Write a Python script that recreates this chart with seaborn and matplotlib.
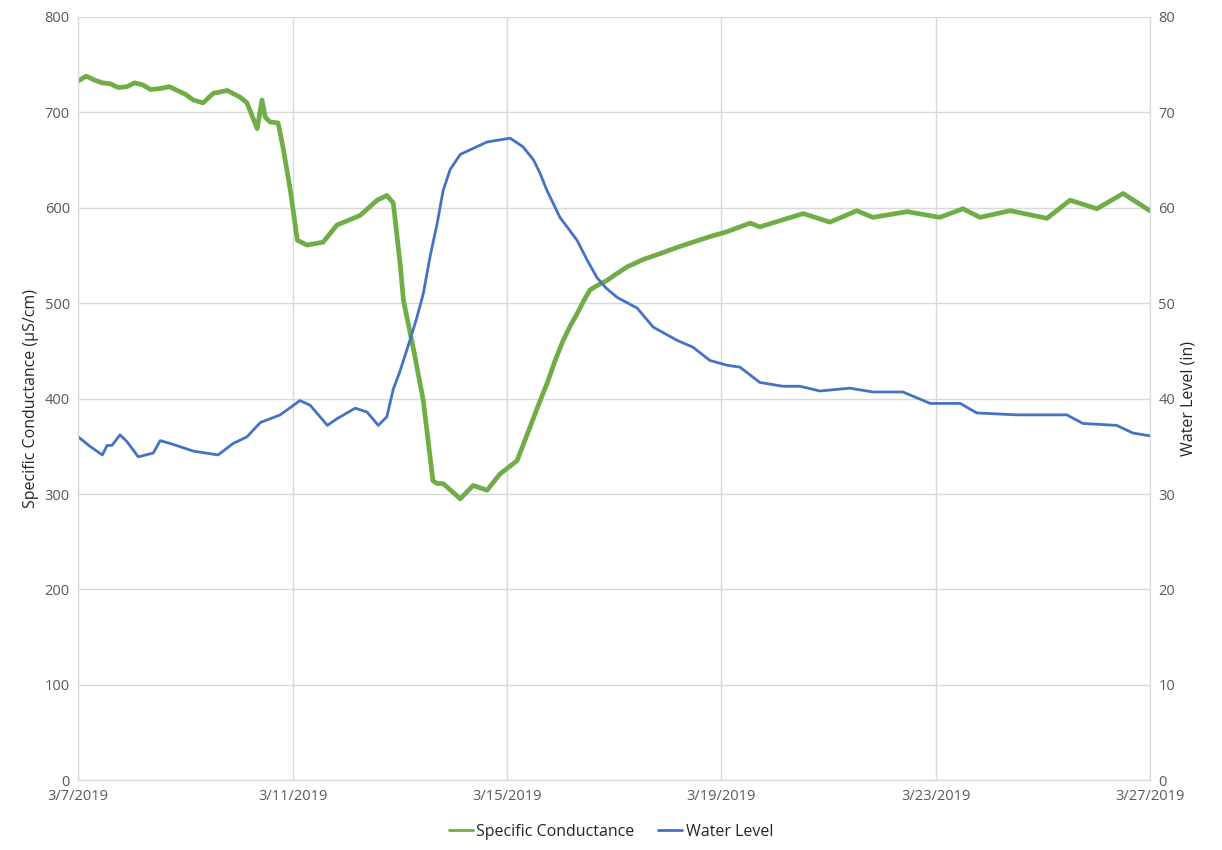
import matplotlib
matplotlib.use("Agg")
import matplotlib.pyplot as plt
from matplotlib.lines import Line2D
import numpy as np
import pandas as pd
import seaborn as sns

start = pd.Timestamp("2019-03-07")

# specific conductance (uS/cm), days since 3/7/2019
sc_days = [0.00, 0.15, 0.30, 0.45, 0.60, 0.75, 0.91, 1.05, 1.20, 1.35, 1.53, 1.70,
           1.85, 2.00, 2.15, 2.33, 2.52, 2.78, 3.02, 3.15, 3.34, 3.43, 3.49, 3.58,
           3.73, 3.82, 3.96, 4.09, 4.27, 4.57, 4.83, 5.26, 5.58, 5.76, 5.88, 6.01,
           6.07, 6.26, 6.44, 6.62, 6.70, 6.81, 7.13, 7.37, 7.63, 7.87, 8.19, 8.43,
           8.60, 8.75, 8.90, 9.05, 9.18, 9.31, 9.43, 9.55, 9.70, 9.87, 10.05, 10.24,
           10.55, 10.86, 11.15, 11.47, 11.80, 12.11, 12.54, 12.72, 13.53, 14.03,
           14.53, 14.83, 15.47, 16.08, 16.51, 16.83, 17.39, 18.08, 18.51, 19.01,
           19.50, 20.00]
sc_vals = [733, 738, 734, 731, 730, 726, 727, 731, 729, 724, 725, 727,
           723, 719, 713, 710, 720, 723, 716, 710, 683, 713, 695, 690,
           689, 664, 618, 566, 561, 564, 582, 592, 608, 613, 605, 540,
           503, 451, 398, 314, 311, 311, 295, 309, 304, 321, 335, 370,
           395, 416, 440, 461, 476, 489, 502, 514, 519, 524, 531, 538,
           546, 552, 558, 564, 570, 575, 584, 580, 594, 585,
           597, 590, 596, 590, 599, 590, 597, 589, 608, 599,
           615, 597]

# water level (in)
wl_days = [0.00, 0.22, 0.45, 0.54, 0.63, 0.78, 0.91, 1.12, 1.40, 1.53, 1.72, 2.15,
           2.61, 2.89, 3.15, 3.40, 3.77, 4.14, 4.33, 4.65, 4.83, 5.17, 5.39, 5.60,
           5.76, 5.88, 6.00, 6.19, 6.32, 6.44, 6.57, 6.70, 6.81, 6.94, 7.13, 7.63,
           8.06, 8.30, 8.50, 8.62, 8.75, 8.99, 9.15, 9.31, 9.50, 9.68, 9.85, 10.06,
           10.43, 10.73, 11.18, 11.47, 11.79, 12.11, 12.35, 12.72, 13.15, 13.47,
           13.84, 14.40, 14.83, 15.39, 15.90, 16.46, 16.77, 17.52, 18.45, 18.75,
           19.38, 19.68, 20.00]
wl_vals = [36.0, 35.0, 34.1, 35.1, 35.1, 36.2, 35.5, 33.9, 34.3, 35.6, 35.3, 34.5,
           34.1, 35.3, 36.0, 37.5, 38.3, 39.8, 39.3, 37.2, 37.9, 39.0, 38.6, 37.2,
           38.1, 41.0, 42.8, 46.1, 48.5, 51.0, 55.0, 58.4, 61.8, 64.0, 65.6, 66.9,
           67.3, 66.4, 65.0, 63.6, 61.8, 59.0, 57.8, 56.6, 54.5, 52.7, 51.6, 50.6,
           49.5, 47.5, 46.1, 45.4, 44.0, 43.5, 43.3, 41.7, 41.3, 41.3,
           40.8, 41.1, 40.7, 40.7, 39.5, 39.5, 38.5, 38.3, 38.3, 37.4,
           37.2, 36.4, 36.1]

tick_dates = ["2019-03-07", "2019-03-11", "2019-03-15", "2019-03-19", "2019-03-23", "2019-03-27"]
tick_labels = ["3/7/2019", "3/11/2019", "3/15/2019", "3/19/2019", "3/23/2019", "3/27/2019"]

green = "#70ad47"
blue = "#4472c4"
grid_c = "#d9d9d9"
text_c = "#595959"

sns.set_style("white")
plt.rcParams["font.family"] = ["Open Sans", "DejaVu Sans"]

sc = pd.DataFrame({"date": start + pd.to_timedelta(sc_days, unit="D"), "val": sc_vals})
wl = pd.DataFrame({"date": start + pd.to_timedelta(wl_days, unit="D"), "val": wl_vals})

fig, ax = plt.subplots(figsize=(12.22, 8.5), dpi=100)
fig.subplots_adjust(left=0.064, right=0.941, top=0.98, bottom=0.082)
ax2 = ax.twinx()

sns.lineplot(data=sc, x="date", y="val", ax=ax, color=green, linewidth=3.4)
sns.lineplot(data=wl, x="date", y="val", ax=ax2, color=blue, linewidth=2.0)

ticks = [pd.Timestamp(t) for t in tick_dates]
ax.set_xlim(ticks[0], ticks[-1])
ax.set_xticks(ticks)
ax.set_xticklabels(tick_labels)
ax.set_ylim(0, 800)
ax.set_yticks(np.arange(0, 801, 100))
ax2.set_ylim(0, 80)
ax2.set_yticks(np.arange(0, 81, 10))

ax.grid(True, color=grid_c, linewidth=1.0)
ax.set_axisbelow(True)
ax2.grid(False)

for a in (ax, ax2):
    a.tick_params(length=0, labelsize=10.5, labelcolor=text_c, pad=6)
    for s in a.spines.values():
        s.set_color(grid_c)
    a.spines["top"].set_visible(False)

ax.set_xlabel("")
ax.set_ylabel("Specific Conductance (µS/cm)", fontsize=11.5, color="#262626")
ax2.set_ylabel("Water Level (in)", fontsize=11.5, color="#262626")

handles = [Line2D([0], [0], color=green, lw=2), Line2D([0], [0], color=blue, lw=2)]
fig.legend(handles, ["Specific Conductance", "Water Level"], loc="lower center",
           ncol=2, frameon=False, fontsize=11.5, bbox_to_anchor=(0.5, -0.005),
           handlelength=1.5, handletextpad=0.2, columnspacing=1.5)

fig.savefig("out.png", dpi=100)
